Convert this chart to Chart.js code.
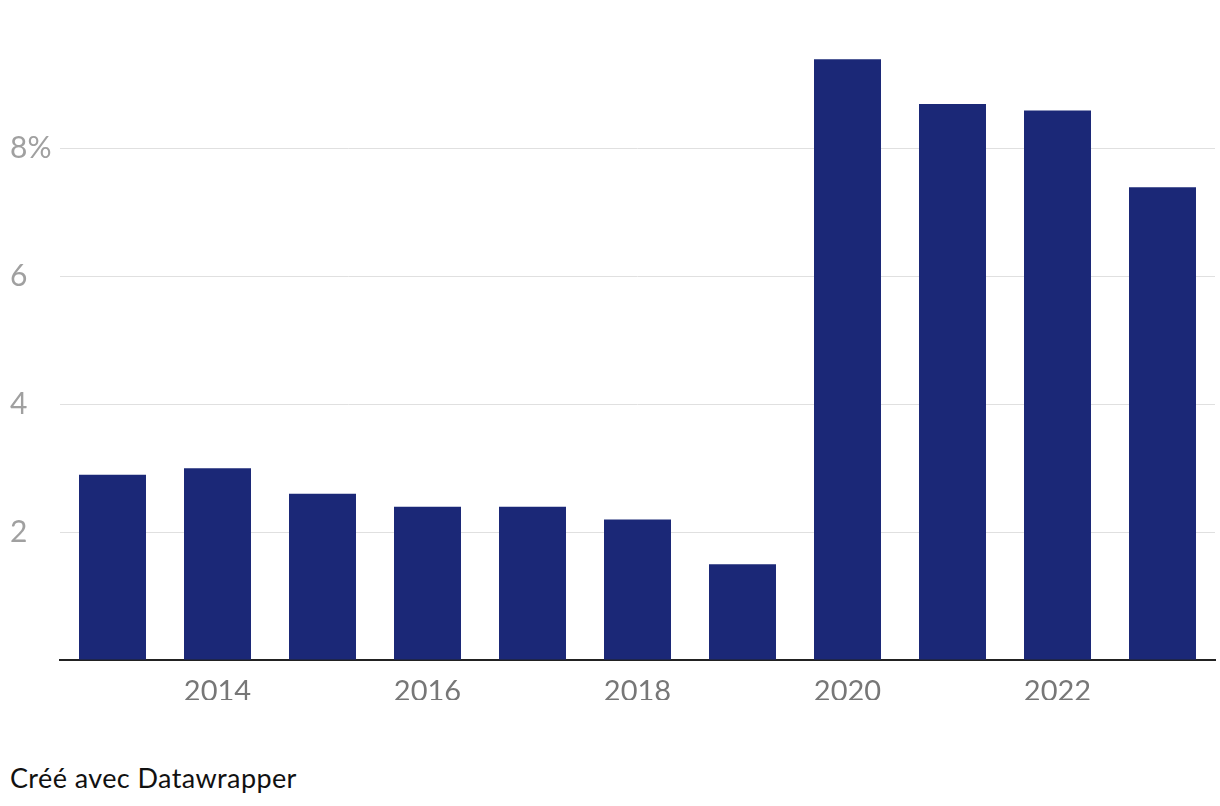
<!DOCTYPE html>
<html>
<head>
<meta charset="utf-8">
<script src="https://cdn.jsdelivr.net/npm/chart.js@4"></script>
<style>
  html, body { margin: 0; padding: 0; background: #fff; }
  #wrap { position: relative; width: 1220px; height: 720px; }
  #credit {
    position: absolute; left: 10px; top: 761px;
    font-family: Lato, sans-serif; font-size: 27px; letter-spacing: 0.4px; color: #111;
  }
</style>
</head>
<body>
<div id="wrap"><canvas id="canvas"></canvas></div>
<div id="credit">Créé avec Datawrapper</div>
<script>
// Données
const years = ['2013', '2014', '2015', '2016', '2017', '2018', '2019', '2020', '2021', '2022', '2023'];
const values = [2.9, 3.0, 2.6, 2.4, 2.4, 2.2, 1.5, 9.4, 8.7, 8.6, 7.4];
const yTicks = [2, 4, 6, 8];

const config = {
    type: 'bar',
    data: {
        labels: years,
        datasets: [{
            data: values,
            backgroundColor: '#1b2877',
            barPercentage: 0.638,
            categoryPercentage: 1
        }]
    },
    options: {
        responsive: true,
        maintainAspectRatio: false,
        animation: false,
        layout: { padding: { top: 21, left: 10, right: 5, bottom: 20 } },
        plugins: { legend: { display: false }, tooltip: { enabled: false } },
        scales: {
            x: {
                grid: { display: false, drawTicks: false },
                border: { display: true, color: '#222', width: 2 },
                afterFit: s => { s.height = 40; },
                ticks: {
                    autoSkip: false,
                    maxRotation: 0,
                    padding: 14,
                    color: '#777',
                    font: { family: 'Lato', size: 29 },
                    callback: (v, i) => (i % 2 === 1 ? years[i] : '')
                }
            },
            y: {
                min: 0,
                max: 10,
                border: { display: false },
                afterFit: s => { s.width = 50; },
                grid: {
                    drawTicks: false,
                    lineWidth: 1,
                    color: c => (yTicks.includes(c.tick.value) ? '#e0e0e0' : 'transparent')
                },
                ticks: {
                    stepSize: 2,
                    crossAlign: 'far',
                    padding: 0,
                    color: '#a0a0a0',
                    font: { family: 'Lato', size: 30 },
                    callback: v => (yTicks.includes(v) ? (v === 8 ? '8%' : String(v)) : '')
                }
            }
        }
    }
};

new Chart('canvas', config);
</script>
</body>
</html>
